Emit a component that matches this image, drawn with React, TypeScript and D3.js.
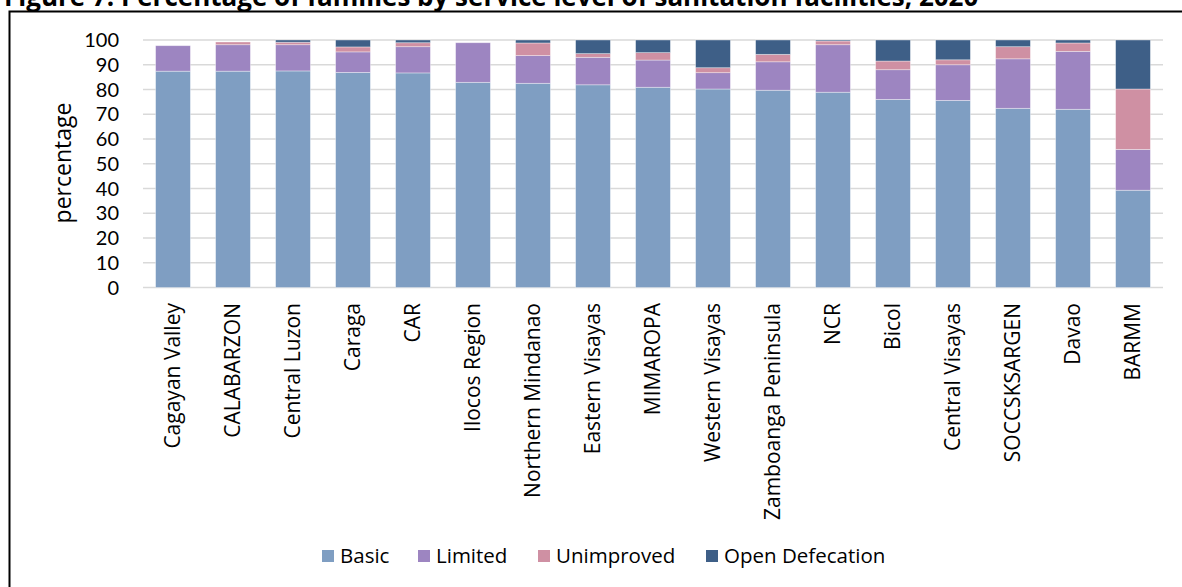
import React, { useEffect, useRef } from 'react';
import * as d3 from 'd3';

const categories = [
  'Cagayan Valley', 'CALABARZON', 'Central Luzon', 'Caraga', 'CAR', 'Ilocos Region',
  'Northern Mindanao', 'Eastern Visayas', 'MIMAROPA', 'Western Visayas', 'Zamboanga Peninsula',
  'NCR', 'Bicol', 'Central Visayas', 'SOCCSKSARGEN', 'Davao', 'BARMM',
];
const basic = [87.4, 87.4, 87.5, 86.9, 86.7, 82.9, 82.5, 81.9, 80.9, 80.2, 79.7, 78.9, 76.0, 75.6, 72.4, 72.0, 39.3];
const limited = [10.3, 10.7, 10.6, 8.3, 10.6, 16.0, 11.2, 11.1, 11.0, 6.6, 11.5, 19.2, 12.0, 14.4, 20.0, 23.4, 16.5];
const unimproved = [0, 1.1, 1.0, 2.0, 1.6, 0, 5.1, 1.5, 3.0, 2.0, 3.0, 1.5, 3.5, 2.0, 4.9, 3.4, 24.4];
const openDefecation = [0, 0, 0.9, 2.8, 1.1, 0, 1.2, 5.5, 5.1, 11.2, 5.8, 0.4, 8.5, 8.0, 2.7, 1.2, 19.8];
const seriesNames = ['Basic', 'Limited', 'Unimproved', 'Open Defecation'];
const seriesColors = ['#7f9ec2', '#9d85c1', '#cf90a3', '#3e5f87'];
const yTicks = [0, 10, 20, 30, 40, 50, 60, 70, 80, 90, 100];

const W = 1182;
const H = 587;

export default function App() {
  const ref = useRef<SVGSVGElement>(null);

  useEffect(() => {
    const svg = d3.select(ref.current);
    svg.selectAll('*').remove();

    const rows = categories.map((c, i) => ({
      name: c,
      Basic: basic[i],
      Limited: limited[i],
      Unimproved: unimproved[i],
      'Open Defecation': openDefecation[i],
    }));

    const x = d3.scaleBand().domain(categories).range([143, 1163]).paddingInner(0.42).paddingOuter(0.21);
    const y = d3.scaleLinear().domain([0, 100]).range([287.5, 40]);

    // title, cut off at the top of the page
    svg.append('text')
      .attr('x', 4).attr('y', 6)
      .style('font-family', 'Open Sans')
      .style('font-weight', '700')
      .style('font-size', '26px')
      .text('Figure 7. Percentage of families by service level of sanitation facilities, 2020');

    // outer frame
    svg.append('rect')
      .attr('x', 9.5).attr('y', 11.5).attr('width', 1200).attr('height', 600)
      .attr('fill', 'none').attr('stroke', '#000').attr('stroke-width', 2);

    // gridlines
    svg.append('g').selectAll('line').data(yTicks).enter().append('line')
      .attr('x1', 143).attr('x2', 1163)
      .attr('y1', (d) => y(d)).attr('y2', (d) => y(d))
      .attr('stroke', '#d9d9d9').attr('stroke-width', 1.5);

    // y tick labels
    svg.append('g').selectAll('text').data(yTicks).enter().append('text')
      .attr('x', 119).attr('y', (d) => y(d))
      .attr('dy', '0.35em')
      .attr('text-anchor', 'end')
      .style('font-family', 'Lato')
      .style('font-size', '20px')
      .style('fill', '#000')
      .text((d) => d);

    svg.append('text')
      .attr('transform', 'translate(63,163) rotate(-90)')
      .attr('text-anchor', 'middle')
      .attr('dy', '0.35em')
      .style('font-family', 'Open Sans')
      .style('font-size', '23px')
      .text('percentage');

    const stack = d3.stack<any>().keys(seriesNames);
    const layers = stack(rows);

    layers.forEach((layer, li) => {
      svg.append('g').selectAll('rect').data(layer).enter().append('rect')
        .attr('x', (d: any) => x(d.data.name) as number)
        .attr('width', x.bandwidth())
        .attr('y', (d) => y(d[1]))
        .attr('height', (d) => Math.max(0, y(d[0]) - y(d[1])))
        .attr('fill', seriesColors[li])
        .attr('stroke', '#ffffff')
        .attr('stroke-opacity', 0.45)
        .attr('stroke-width', 0.8);
    });

    // x labels
    svg.append('g').selectAll('text').data(categories).enter().append('text')
      .attr('transform', (d) => `translate(${(x(d) as number) + x.bandwidth() / 2},303) rotate(-90)`)
      .attr('text-anchor', 'end')
      .attr('dy', '0.35em')
      .style('font-family', 'Open Sans')
      .style('font-size', '21px')
      .text((d) => d);

    // legend
    const legendX = [322, 418, 538, 706];
    const lg = svg.append('g');
    seriesNames.forEach((s, i) => {
      lg.append('rect')
        .attr('x', legendX[i]).attr('y', 550).attr('width', 12).attr('height', 12)
        .attr('fill', seriesColors[i]);
      lg.append('text')
        .attr('x', legendX[i] + 18).attr('y', 556)
        .attr('dy', '0.35em')
        .style('font-family', 'Open Sans')
        .style('font-size', '20.5px')
        .text(s);
    });
  });

  return (
    <svg
      ref={ref}
      width={W}
      height={H}
      style={{ position: 'absolute', left: 0, top: 0, background: '#fff' }}
    />
  );
}
